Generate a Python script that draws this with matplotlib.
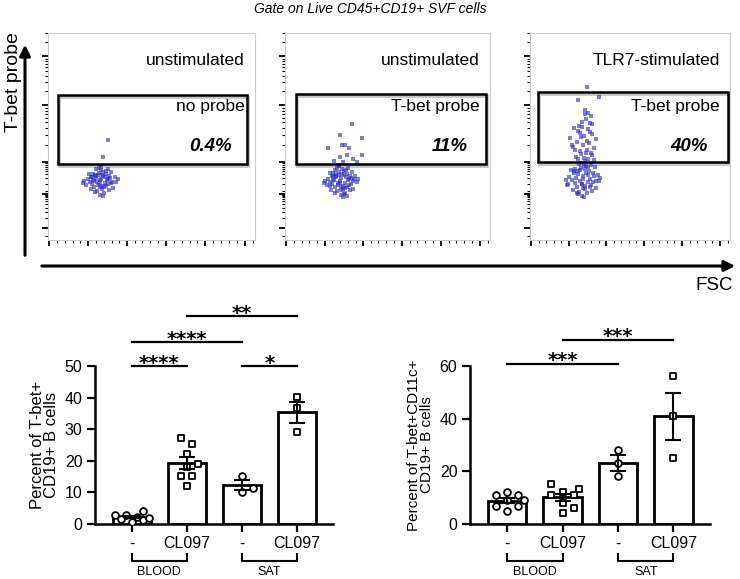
import matplotlib
matplotlib.use('Agg')
import matplotlib.pyplot as plt
import numpy as np
from matplotlib.patches import Rectangle
from matplotlib.transforms import blended_transform_factory

plt.rcParams['font.family'] = ['Liberation Sans', 'DejaVu Sans']

# --- flow cytometry events (FSC, T-bet probe) ---
p1_x = [25.2, 23.1, 27.4, 21.3, 29.0, 24.6, 26.3, 20.2, 30.1, 22.4, 28.2, 25.7, 19.3, 31.0, 24.1,
        26.8, 23.5, 27.9, 18.4, 32.2, 21.7, 29.4, 25.0, 22.2, 28.6, 24.3, 26.1, 20.6, 30.5, 23.3,
        27.2, 17.5, 33.0, 25.5, 22.8, 28.0, 24.9, 26.6, 21.1, 29.7, 19.8, 31.4, 23.7, 27.6, 25.3,
        20.9, 30.3, 24.4, 26.4, 22.6, 28.8, 16.9, 33.6, 25.9, 23.0, 27.1, 21.5, 29.2, 25.8, 26.5, 29.1]
p1_y = [29.3, 30.6, 28.1, 31.2, 27.4, 33.0, 25.2, 28.5, 30.4, 26.1, 32.3, 34.6, 30.0, 28.7, 27.0,
        31.5, 24.3, 33.8, 27.2, 31.0, 32.7, 24.6, 22.1, 29.0, 29.5, 31.8, 26.8, 25.0, 33.2, 35.1,
        23.2, 29.2, 28.6, 30.2, 32.0, 26.4, 28.0, 33.5, 27.6, 31.4, 32.4, 25.5, 28.3, 30.8, 26.2,
        31.1, 27.8, 35.6, 21.4, 23.4, 34.8, 28.2, 30.1, 32.2, 31.3, 25.9, 29.4, 29.8, 36.0, 40.6, 49.0]

p2_x = [27.0, 25.1, 29.3, 23.2, 31.0, 26.4, 28.3, 22.1, 32.0, 24.3, 30.2, 27.7, 21.2, 33.1, 26.0,
        28.8, 25.5, 29.9, 20.4, 34.0, 23.6, 31.5, 27.1, 24.0, 30.6, 26.3, 28.1, 22.5, 32.5, 25.3,
        29.2, 19.5, 35.0, 27.5, 24.7, 30.0, 26.8, 28.6, 23.0, 31.8, 21.8, 33.4, 25.7, 29.6, 27.3,
        22.9, 32.3, 26.4, 28.4, 24.6, 30.8, 18.8, 35.5, 27.9, 25.0, 29.1, 23.5, 31.2, 26.1, 28.9,
        24.2, 30.4, 22.0, 33.8, 27.4,
        32.7, 26.8, 27.8, 29.3, 21.0, 31.0, 37.6, 37.6, 30.0, 26.8, 33.0, 24.0, 35.0, 28.5]
p2_y = [29.1, 30.8, 28.0, 31.5, 27.2, 33.4, 25.0, 28.6, 30.6, 26.0, 32.6, 35.0, 30.2, 28.9, 27.1,
        31.8, 24.0, 34.2, 27.0, 31.3, 33.0, 24.4, 22.0, 29.3, 29.7, 32.1, 26.5, 24.8, 33.6, 35.6,
        23.0, 29.0, 28.4, 30.4, 32.3, 26.2, 27.8, 34.0, 27.4, 31.7, 32.8, 25.3, 28.2, 31.0, 26.0,
        31.4, 27.6, 36.2, 21.2, 23.2, 35.2, 28.0, 30.0, 32.5, 31.6, 25.6, 29.6, 30.0, 36.8, 22.6,
        34.4, 21.8, 26.8, 29.8, 24.4,
        57.0, 51.7, 46.9, 46.9, 45.0, 45.0, 50.0, 42.0, 42.0, 41.0, 39.6, 39.0, 38.5, 38.2]

p3_x = [26.5, 24.2, 28.8, 22.0, 30.6, 25.3, 27.7, 20.8, 31.9, 23.4, 29.6, 26.9, 19.6, 33.0, 25.8,
        28.2, 24.6, 29.1, 18.7, 33.8, 22.7, 30.9, 26.1, 23.1, 29.9, 25.2, 27.4, 21.4, 32.4, 24.5,
        28.5, 17.9, 34.4, 26.7, 23.8, 30.2, 25.9, 27.9, 22.3, 31.3, 20.6, 32.9, 24.9, 28.9, 26.3,
        21.9, 31.6, 25.5, 27.1, 23.6, 30.4, 19.2, 34.8, 27.6, 24.1,
        27.5, 29.2, 30.4, 28.1, 26.0, 31.2, 24.3, 22.0, 28.8, 30.0, 25.1, 27.0, 19.8, 33.0, 23.5,
        29.5, 26.4, 21.3, 31.8, 28.4, 24.9, 27.9, 25.6, 30.8, 22.8, 26.9, 29.0, 23.9, 32.2, 27.3,
        20.9, 28.6, 25.4, 31.0, 24.0, 26.1, 29.8, 22.3, 27.7, 30.3,
        28.5, 34.5, 24.0]
p3_y = [30.2, 32.5, 28.4, 33.8, 27.0, 35.4, 25.1, 29.6, 31.4, 26.3, 34.0, 36.8, 31.0, 29.2, 27.5,
        33.1, 23.8, 36.0, 26.9, 32.2, 35.1, 24.2, 21.6, 30.7, 30.0, 34.3, 26.8, 24.6, 35.7, 37.4,
        22.9, 29.4, 28.8, 31.6, 33.7, 26.1, 27.7, 36.5, 28.0, 33.0, 34.6, 25.4, 29.0, 32.0, 25.8,
        32.8, 28.3, 37.9, 21.0, 23.1, 36.8, 27.3, 30.5, 34.9, 22.4,
        64.0, 62.5, 60.8, 59.6, 58.0, 57.2, 56.0, 55.1, 54.6, 53.0, 52.4, 51.0, 50.2, 49.5, 48.3,
        47.8, 46.6, 45.9, 45.0, 44.2, 43.8, 43.0, 42.1, 41.6, 41.0, 40.4, 40.0, 39.6, 39.2, 39.0,
        46.8, 48.9, 50.8, 52.0, 53.8, 55.5, 57.4, 44.5, 62.0, 42.6,
        75.0, 70.5, 69.0]

panel_titles = ['unstimulated', 'unstimulated', 'TLR7-stimulated']
probe_labels = ['no probe', 'T-bet probe', 'T-bet probe']
gate_pct = ['0.4%', '11%', '40%']

# --- bar chart data ---
cond_labels = ['-', 'CL097', '-', 'CL097']
group_labels = ['BLOOD', 'SAT']

tbet_blood_ctrl = [2.8, 1.5, 2.2, 4.0, 0.5, 1.4, 2.0, 2.9]
tbet_blood_cl097 = [27.2, 25.2, 22.2, 19.1, 18.1, 15.1, 15.3, 12.0]
tbet_sat_ctrl = [15.2, 11.5, 10.0]
tbet_sat_cl097 = [40.2, 36.6, 29.2]

cd11c_blood_ctrl = [11.1, 9.1, 9.1, 11.1, 12.1, 6.9, 5.0, 6.9]
cd11c_blood_cl097 = [15.1, 12.2, 13.2, 11.0, 11.0, 8.1, 6.2, 4.0]
cd11c_sat_ctrl = [28.2, 23.2, 18.2]
cd11c_sat_cl097 = [56.2, 41.2, 25.1]

# comparisons: (bar a, bar b, height, stars)
tbet_sig = [(0, 1, 50, '****'), (2, 3, 50, '*'), (0, 2, 57.6, '****'), (1, 3, 65.8, '**')]
cd11c_sig = [(0, 2, 60.9, '***'), (1, 3, 70.0, '***')]

W, H = 740, 579
fig = plt.figure(figsize=(W / 100, H / 100), dpi=100)


def box(l, t, r, b):
    return [l / W, 1 - b / H, (r - l) / W, (b - t) / H]


# overlay for the big arrows and free text
ov = fig.add_axes([0, 0, 1, 1])
ov.set_xlim(0, W)
ov.set_ylim(H, 0)
ov.axis('off')
ov.text(370, 9, 'Gate on Live CD45+CD19+ SVF cells', ha='center', va='center',
        fontsize=10, style='italic')
ov.annotate('', xy=(25, 42), xytext=(25, 258),
            arrowprops=dict(arrowstyle='-|>', lw=2.2, color='black', mutation_scale=16))
ov.annotate('', xy=(738, 266), xytext=(39, 266),
            arrowprops=dict(arrowstyle='-|>', lw=2.2, color='black', mutation_scale=16))
ov.text(14, 82, 'T-bet probe', rotation=90, ha='center', va='center', fontsize=14)
ov.text(714, 285, 'FSC', ha='center', va='center', fontsize=13.5)

# --- flow dot plots ---
flow_boxes = [(48, 33, 255, 240), (285, 33, 490, 240), (530, 33, 730, 240)]
gates = [(4.8, 37.2, 96, 71.5), (5.4, 37.2, 98, 72), (4, 38.6, 99, 73)]
events = [(p1_x, p1_y), (p2_x, p2_y), (p3_x, p3_y)]

xmaj = [0.5, 19.3, 38.0, 57.0, 76.0, 95.0]
xmin = [m + 3.8 * k for m in xmaj[:-1] for k in range(1, 5)] + [98.8]
ymaj = [5.8, 22.7, 38.6, 66.2, 90.3]
ymin = [5.8 + 16.9 * np.log10(k) for k in range(2, 10)]
ymin += [38.6 + 27.6 * np.log10(k) for k in range(2, 10)]
ymin += [66.2 + 24.1 * np.log10(k) for k in range(2, 10)]
ymin += [22.7 + 15.9 * np.log10(k) for k in range(2, 10)]
ymin += [90.3 + 24.1 * np.log10(k) for k in range(2, 4)]
ymin += [21.6, 22.2, 23.2, 24.0, 2.0]

for i, b in enumerate(flow_boxes):
    ax = fig.add_axes(box(*b))
    ax.set_xlim(0, 100)
    ax.set_ylim(0, 100)
    for sp in ax.spines.values():
        sp.set_color('#cccccc')
        sp.set_linewidth(0.8)
    ax.set_xticks(xmaj)
    ax.set_xticks(xmin, minor=True)
    ax.set_yticks(ymaj)
    ax.set_yticks(ymin, minor=True)
    ax.tick_params(which='both', direction='out', color='black', labelbottom=False, labelleft=False)
    ax.tick_params(which='major', length=4, width=1.3)
    ax.tick_params(which='minor', length=2, width=0.8)
    ex, ey = events[i]
    ax.scatter(ex, ey, s=6, marker='s', color='#2828c0', alpha=0.6, linewidths=0, zorder=3)
    gx0, gy0, gx1, gy1 = gates[i]
    ax.add_patch(Rectangle((gx0 + 0.6, gy0 - 1.0), gx1 - gx0, gy1 - gy0, fill=False,
                           edgecolor='#c4c4c4', lw=2, zorder=2))
    ax.add_patch(Rectangle((gx0, gy0), gx1 - gx0, gy1 - gy0, fill=False,
                           edgecolor='black', lw=1.8, zorder=4))
    ax.text(95, 88.5, panel_titles[i], ha='right', va='center', fontsize=12.5)
    ax.text(95, 65.5, probe_labels[i], ha='right', va='center', fontsize=12.5)
    ax.text(89, 46, gate_pct[i], ha='right', va='center', fontsize=13.5,
            fontweight='bold', style='italic')


# --- bar charts ---
def swarm(vals, center, ppx, ppy, diam):
    # simple beeswarm in pixel space, spread limited to +-3 steps
    placed = []
    xs = [0.0] * len(vals)
    for i in sorted(range(len(vals)), key=lambda j: vals[j]):
        best, best_d = 0.0, -1.0
        for k in [0, 1, -1, 2, -2, 3, -3]:
            dx = k * 0.8 * diam
            d = min([np.hypot(dx - px, (vals[i] - v) * ppy) for px, v in placed] or [99.0])
            if d >= 1.4 * diam:
                best = dx
                break
            if d > best_d:
                best, best_d = dx, d
        placed.append((best, vals[i]))
        xs[i] = center + best / ppx
    return xs


def bar_panel(rect, series, ymax, yticks, sig, ylabel, ylab_size):
    ax = fig.add_axes(box(*rect))
    pos = np.arange(len(series))
    ax.set_xlim(-0.67, 3.66)
    ax.set_ylim(0, ymax)
    ppx = (rect[2] - rect[0]) / 4.33
    ppy = (rect[3] - rect[1]) / ymax
    means = [np.mean(s) for s in series]
    sems = [np.std(s, ddof=1) / np.sqrt(len(s)) for s in series]
    ax.bar(pos, means, width=0.69, color='white', edgecolor='black', linewidth=2, zorder=1)
    for k, s in enumerate(series):
        mk = 'o' if k % 2 == 0 else 's'
        xs = swarm(s, pos[k], ppx, ppy, 7)
        ax.scatter(xs, s, marker=mk, s=24 if mk == 'o' else 20, facecolor='white',
                   edgecolor='black', linewidths=1.3, zorder=3)
    ax.errorbar(pos, means, yerr=sems, fmt='none', ecolor='black', elinewidth=1.5,
                capsize=5.5, capthick=1.5, zorder=4)
    for a, b, y, stars in sig:
        ax.plot([pos[a], pos[b]], [y, y], color='black', lw=1.6, clip_on=False)
        ax.annotate(stars, xy=((pos[a] + pos[b]) / 2, y), xytext=(0, -2),
                    textcoords='offset points', ha='center', va='baseline',
                    fontsize=14, family='DejaVu Sans', fontweight='bold',
                    annotation_clip=False)
    ax.spines['top'].set_visible(False)
    ax.spines['right'].set_visible(False)
    ax.spines['left'].set_linewidth(1.8)
    ax.spines['bottom'].set_linewidth(1.8)
    ax.set_yticks(yticks)
    ax.set_xticks(pos)
    ax.set_xticklabels(cond_labels)
    ax.tick_params(axis='both', direction='out', length=6, width=1.6, labelsize=11.5, pad=3)
    ax.set_ylabel(ylabel, fontsize=ylab_size, linespacing=0.95, labelpad=4)
    tr = blended_transform_factory(ax.transData, ax.transAxes)
    for g, name in enumerate(group_labels):
        x0, x1 = pos[2 * g], pos[2 * g + 1]
        ax.plot([x0, x0, x1, x1], [-0.19, -0.232, -0.232, -0.19], color='black', lw=1.5,
                transform=tr, clip_on=False)
        ax.text((x0 + x1) / 2, -0.305, name, transform=tr, ha='center', va='center', fontsize=9)
    return ax


bar_panel((95, 366, 333, 524),
          [tbet_blood_ctrl, tbet_blood_cl097, tbet_sat_ctrl, tbet_sat_cl097],
          50, [0, 10, 20, 30, 40, 50], tbet_sig, 'Percent of T-bet+\nCD19+ B cells', 12)
bar_panel((470, 366, 710, 524),
          [cd11c_blood_ctrl, cd11c_blood_cl097, cd11c_sat_ctrl, cd11c_sat_cl097],
          60, [0, 20, 40, 60], cd11c_sig, 'Percent of T-bet+CD11c+\nCD19+ B cells', 11)

fig.savefig('out.png', dpi=100)
